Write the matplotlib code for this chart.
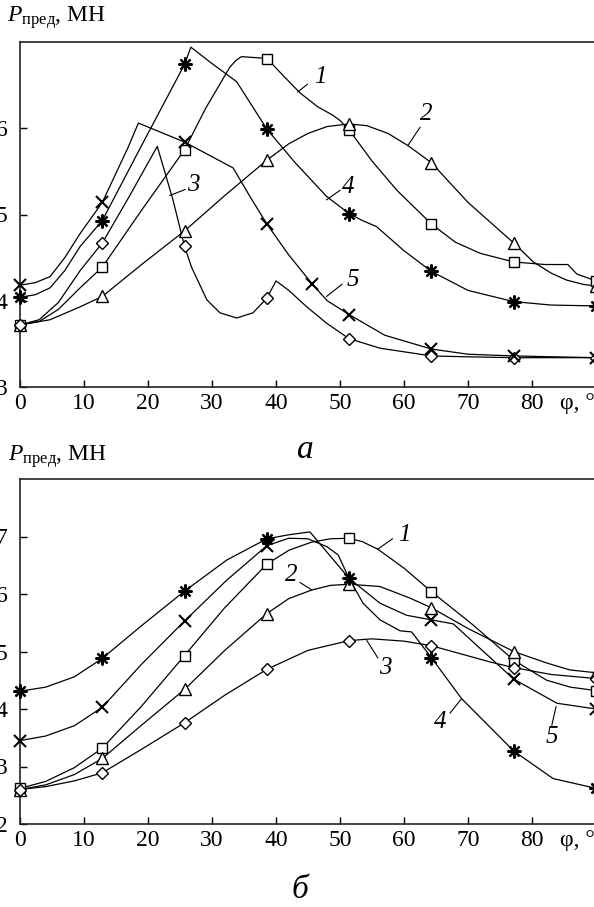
import matplotlib
matplotlib.use("Agg")
import matplotlib.pyplot as plt

plt.rcParams['font.family'] = ['Liberation Serif', 'DejaVu Serif']
plt.rcParams['mathtext.fontset'] = 'custom'
plt.rcParams['mathtext.rm'] = 'Liberation Serif'
plt.rcParams['mathtext.it'] = 'Liberation Serif:italic'

# углы, где стоят маркеры
PHI = [0, 12.86, 25.71, 38.57, 51.43, 64.29, 77.14, 90]

# --- рисунок а: маркеры ---
A_SQ = [3.72, 4.39, 5.75, 6.80, 5.98, 4.89, 4.45, 4.23]
A_TRI = [3.72, 4.05, 4.81, 5.63, 6.05, 5.60, 4.67, 4.17]
A_DIA = [3.72, 4.67, 4.63, 4.03, 3.56, 3.36, 3.34, 3.34]
A_AST = [4.04, 4.93, 6.74, 5.99, 5.01, 4.34, 3.99, 3.94]
A_CRS_X = [0, 12.86, 25.71, 38.57, 45.6, 51.43, 64.29, 77.14, 90]
A_CRS = [4.18, 5.14, 5.84, 4.89, 4.20, 3.84, 3.44, 3.36, 3.34]

# --- рисунок а: линии ---
A1_X = [0, 3, 6, 9.4, 12.86, 19, 25.71, 29, 32.8, 33.8, 34.6, 38.57, 41, 43.75, 46.5, 48.9, 50, 51.43, 55, 58.9, 64.29, 68, 71.9, 77.14, 82, 85.6, 87, 90]
A1_Y = [3.72, 3.76, 3.90, 4.15, 4.39, 5.05, 5.75, 6.23, 6.71, 6.79, 6.83, 6.81, 6.62, 6.41, 6.25, 6.15, 6.09, 5.98, 5.62, 5.28, 4.89, 4.68, 4.55, 4.45, 4.42, 4.42, 4.31, 4.23]
A2_X = [0, 4.7, 9.4, 12.86, 19, 25.71, 32, 38.57, 42, 45, 48, 51.43, 54.2, 57.5, 60.6, 64.29, 70, 77.14, 80.2, 83, 85.4, 88, 90]
A2_Y = [3.72, 3.78, 3.93, 4.05, 4.42, 4.81, 5.22, 5.63, 5.82, 5.94, 6.02, 6.05, 6.03, 5.94, 5.80, 5.60, 5.14, 4.67, 4.45, 4.32, 4.24, 4.19, 4.17]
A3_X = [0, 3, 6, 9.4, 12.86, 17, 21.45, 22.4, 23.9, 25.71, 26.8, 29.2, 31.25, 33.85, 36.4, 38.57, 40, 42, 44.8, 47.9, 51.43, 56.25, 64.29, 70, 77.14, 90]
A3_Y = [3.72, 3.78, 3.98, 4.35, 4.67, 5.20, 5.79, 5.55, 5.17, 4.63, 4.39, 4.01, 3.86, 3.80, 3.86, 4.03, 4.23, 4.12, 3.93, 3.74, 3.56, 3.45, 3.36, 3.35, 3.34, 3.34]
A4_X = [0, 2.4, 4.7, 7, 9.4, 12.86, 19, 25.71, 26.7, 30, 33.85, 36, 38.57, 43, 47.9, 51.43, 53.5, 55.7, 60, 64.29, 70, 77.14, 83, 90]
A4_Y = [4.04, 4.07, 4.15, 4.35, 4.63, 4.93, 5.80, 6.74, 6.94, 6.75, 6.54, 6.29, 5.99, 5.60, 5.21, 5.01, 4.93, 4.86, 4.58, 4.34, 4.12, 3.99, 3.95, 3.94]
A5_X = [0, 2.4, 4.7, 7, 9.4, 12.86, 16.9, 18.5, 25.71, 33.3, 36, 38.57, 42, 45.6, 48, 51.43, 57, 64.29, 70, 77.14, 90]
A5_Y = [4.18, 4.21, 4.28, 4.50, 4.78, 5.14, 5.78, 6.06, 5.84, 5.54, 5.20, 4.89, 4.53, 4.20, 4.00, 3.84, 3.60, 3.44, 3.38, 3.36, 3.34]

# --- рисунок б: маркеры ---
B_SQ = [2.62, 3.32, 4.93, 6.52, 6.97, 6.04, 4.85, 4.32]
B_TRI = [2.60, 3.14, 4.34, 5.66, 6.17, 5.76, 5.00, 4.63]
B_DIA = [2.60, 2.89, 3.76, 4.69, 5.19, 5.10, 4.72, 4.53]
B_AST = [4.31, 4.88, 6.05, 6.96, 6.27, 4.89, 3.27, 2.62]
B_CRS_X = [0, 12.86, 25.71, 38.57, 64.29, 77.14, 90]
B_CRS = [3.45, 4.03, 5.53, 6.84, 5.55, 4.52, 4.00]

# --- рисунок б: линии ---
B1_X = [0, 4, 8.5, 12.86, 19, 25.71, 31.9, 38.57, 42, 45.5, 48.5, 51.43, 53.5, 55.9, 60, 64.29, 70.7, 77.14, 82.3, 86, 90]
B1_Y = [2.62, 2.74, 2.98, 3.32, 4.05, 4.93, 5.75, 6.52, 6.76, 6.90, 6.96, 6.97, 6.91, 6.78, 6.45, 6.04, 5.47, 4.85, 4.50, 4.38, 4.32]
B2_X = [0, 4, 8.5, 12.86, 19, 25.71, 32, 38.57, 42, 45.6, 48.5, 51.43, 56.25, 60.9, 64.29, 70, 77.14, 82.3, 85.9, 90]
B2_Y = [2.60, 2.68, 2.86, 3.14, 3.72, 4.34, 5.02, 5.66, 5.92, 6.07, 6.15, 6.17, 6.13, 5.93, 5.76, 5.40, 5.00, 4.80, 4.68, 4.63]
B3_X = [0, 4, 8.5, 12.86, 19, 25.71, 32, 38.57, 45, 51.43, 55, 60, 64.29, 73.4, 77.14, 83, 90]
B3_Y = [2.60, 2.65, 2.75, 2.89, 3.30, 3.76, 4.24, 4.69, 5.02, 5.19, 5.22, 5.18, 5.10, 4.82, 4.72, 4.60, 4.53]
B4_X = [0, 4, 8.5, 12.86, 19, 25.71, 32.3, 38.57, 42, 45.3, 51.43, 53.6, 56.25, 59.4, 61.2, 64.29, 69, 77.14, 83.3, 90]
B4_Y = [4.31, 4.38, 4.56, 4.88, 5.45, 6.05, 6.59, 6.96, 7.03, 7.08, 6.27, 5.84, 5.55, 5.36, 5.34, 4.89, 4.18, 3.27, 2.79, 2.62]
B5_X = [0, 4, 8.5, 12.86, 19, 25.71, 32.3, 38.57, 42, 45, 48, 49.7, 51.43, 56.25, 60.4, 64.29, 67.7, 77.14, 83.9, 90]
B5_Y = [3.45, 3.53, 3.71, 4.03, 4.78, 5.53, 6.24, 6.84, 6.97, 6.96, 6.82, 6.68, 6.27, 5.84, 5.63, 5.55, 5.48, 4.52, 4.10, 4.00]

# подписи кривых: текст, x, y текста, начало и конец выноски
A_LABELS = [("1", 46.9, 6.59, 43.4, 6.42, 44.9, 6.51),
            ("2", 63.5, 6.17, 60.6, 5.80, 62.5, 6.01),
            ("3", 27.0, 5.34, 23.4, 5.22, 25.8, 5.29),
            ("4", 51.25, 5.32, 47.9, 5.17, 50.0, 5.28),
            ("5", 52.0, 4.24, 47.9, 4.05, 50.3, 4.19)]
B_LABELS = [("1", 60.0, 7.03, 55.9, 6.78, 58.2, 6.96),
            ("2", 42.4, 6.33, 45.6, 6.07, 43.75, 6.20),
            ("3", 57.0, 4.71, 54.2, 5.19, 55.9, 4.89),
            ("4", 65.6, 3.78, 69.0, 4.18, 67.2, 3.93),
            ("5", 83.1, 3.52, 83.75, 4.04, 83.1, 3.72)]

LW = 0.9
MK = dict(color='k', linestyle='None', clip_on=False, zorder=5)


def oformit(ax, ylo, yhi, yticks):
    ax.set_xlim(0, 90)
    ax.set_ylim(ylo, yhi)
    ax.spines['right'].set_visible(False)
    for s in ['left', 'bottom', 'top']:
        ax.spines[s].set_linewidth(1.2)
        ax.spines[s].set_color('#222222')
    ax.set_xticks(list(range(0, 90, 10)))
    ax.set_yticks(yticks)
    ax.tick_params(direction='in', length=5, width=1, labelsize=17, top=False, right=False)
    ax.tick_params(axis='y', pad=9)
    ax.tick_params(axis='x', pad=4)
    ax.annotate('φ, °', xy=(84.4, 0), xycoords=ax.get_xaxis_transform(),
                xytext=(0, -4), textcoords='offset points', va='top', ha='left',
                fontsize=17, annotation_clip=False)


def krivye(ax, lines, sq, tri, dia, ast, crs_x, crs, labels):
    for xs, ys in lines:
        ax.plot(xs, ys, color='k', lw=LW, zorder=3)
    ax.plot(PHI, sq, marker='s', ms=7, mfc='white', mew=1.0, **MK)
    ax.plot(PHI, tri, marker='^', ms=8, mfc='white', mew=1.0, **MK)
    ax.plot(PHI, dia, marker='D', ms=6.5, mfc='white', mew=1.0, **MK)
    ax.plot(crs_x, crs, marker='x', ms=8, mew=1.5, **MK)
    ax.plot(PHI, ast, marker=(8, 2, 0), ms=10, mew=1.6, **MK)
    for t, tx, ty, x0, y0, x1, y1 in labels:
        ax.plot([x0, x1], [y0, y1], color='k', lw=0.8, zorder=3)
        ax.text(tx, ty, t, fontsize=18, style='italic', ha='center', va='center', zorder=6)


fig = plt.figure(figsize=(5.94, 9.07), dpi=100)
ax_a = fig.add_axes([20 / 594, 520 / 907, 576 / 594, 345 / 907])
ax_b = fig.add_axes([20 / 594, 83 / 907, 576 / 594, 345 / 907])

oformit(ax_a, 3, 7, [3, 4, 5, 6])
krivye(ax_a, [(A1_X, A1_Y), (A2_X, A2_Y), (A3_X, A3_Y), (A4_X, A4_Y), (A5_X, A5_Y)],
       A_SQ, A_TRI, A_DIA, A_AST, A_CRS_X, A_CRS, A_LABELS)

oformit(ax_b, 2, 8, [2, 3, 4, 5, 6, 7])
krivye(ax_b, [(B1_X, B1_Y), (B2_X, B2_Y), (B3_X, B3_Y), (B4_X, B4_Y), (B5_X, B5_Y)],
       B_SQ, B_TRI, B_DIA, B_AST, B_CRS_X, B_CRS, B_LABELS)

fig.text(7 / 594, 1 - 18 / 907, r'$P_{\mathrm{пред}}$, МН', fontsize=17, va='center')
fig.text(8 / 594, 1 - 457 / 907, r'$P_{\mathrm{пред}}$, МН', fontsize=17, va='center')
fig.text(305 / 594, 1 - 450 / 907, 'а', fontsize=24, style='italic', ha='center', va='center')
fig.text(300 / 594, 1 - 890 / 907, 'б', fontsize=24, style='italic', ha='center', va='center')

fig.savefig('out.png', dpi=100)
